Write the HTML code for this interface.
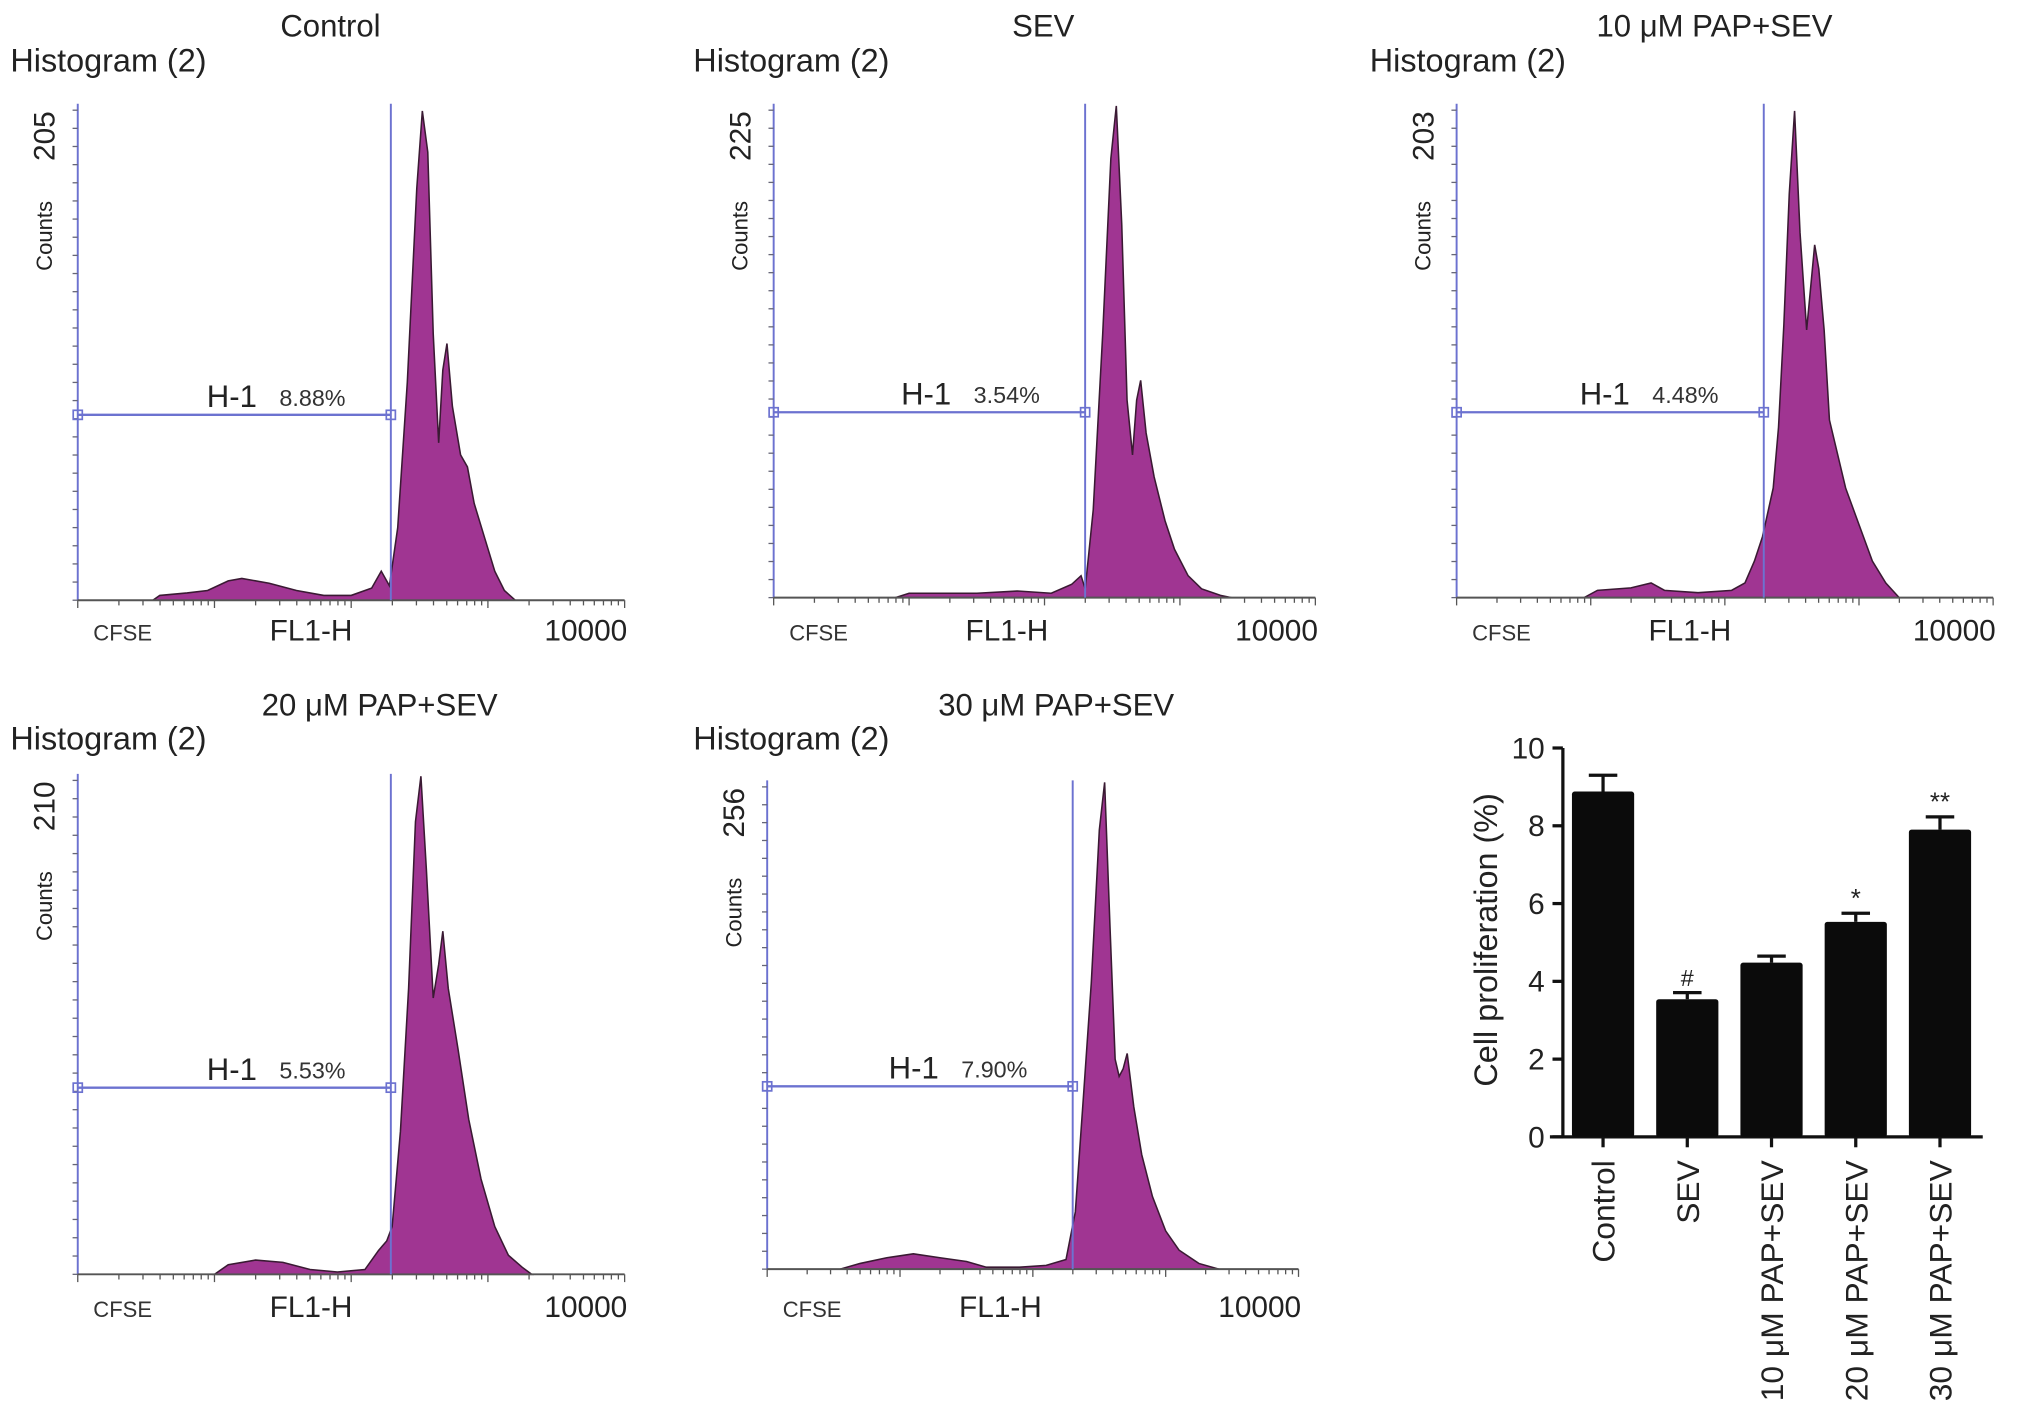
<!DOCTYPE html>
<html><head><meta charset="utf-8"><style>
html,body{margin:0;padding:0;background:#fff;}
svg{display:block;font-family:"Liberation Sans",sans-serif;}
</style></head><body>
<svg id="fig" width="2032" height="1426" viewBox="0 0 1568 1100" preserveAspectRatio="none" xmlns="http://www.w3.org/2000/svg"></svg>
<script>
// ---- Histogram data (x = log10 FL1-H, y = counts) ----
const ctrlX = [0.55,0.6,0.8,0.95,1.1,1.2,1.4,1.6,1.8,2.0,2.15,2.22,2.28,2.34,2.41,2.48,2.52,2.56,2.6,2.64,2.67,2.7,2.74,2.8,2.85,2.9,2.98,3.05,3.12,3.2];
const ctrlY = [0,2,3,4,8,9,7,4,2,2,5,12,6,30,90,170,202,185,110,65,95,106,80,60,55,40,25,12,4,0];
const sevX = [0.9,1.0,1.5,1.8,2.05,2.2,2.27,2.3,2.36,2.43,2.49,2.53,2.57,2.61,2.65,2.68,2.71,2.75,2.81,2.89,2.96,3.06,3.16,3.3,3.38];
const sevY = [0,2,2,3,2,6,10,4,40,120,200,224,170,90,65,90,99,75,55,35,22,10,4,1,0];
const p10X = [0.95,1.05,1.3,1.45,1.55,1.8,2.05,2.15,2.22,2.28,2.36,2.4,2.44,2.48,2.52,2.56,2.61,2.67,2.7,2.74,2.78,2.9,3.0,3.1,3.2,3.3];
const p10Y = [0,3,4,6,3,2,3,6,15,25,45,70,112,166,200,150,110,145,135,110,73,45,30,15,6,0];
const p20X = [1.0,1.1,1.3,1.5,1.7,1.9,2.1,2.2,2.26,2.3,2.36,2.42,2.47,2.51,2.55,2.6,2.64,2.67,2.71,2.78,2.86,2.95,3.05,3.15,3.25,3.32];
const p20Y = [0,4,6,5,2,1,2,10,14,20,60,120,190,209,170,116,130,144,120,95,65,40,20,8,3,0];
const p30X = [0.55,0.7,0.9,1.1,1.3,1.5,1.65,1.9,2.1,2.25,2.32,2.38,2.44,2.5,2.54,2.58,2.62,2.65,2.68,2.71,2.76,2.82,2.9,3.0,3.1,3.25,3.4];
const p30Y = [0,3,6,8,6,4,1,1,2,5,30,90,150,230,255,180,110,101,105,113,85,60,38,20,10,3,0];
const gatePct = ["8.88%","3.54%","4.48%","5.53%","7.90%"];
const panelTitles = ["Control","SEV","10 μM PAP+SEV","20 μM PAP+SEV","30 μM PAP+SEV"];
const yMaxLabels = [205,225,203,210,256];
const gateLog = [2.29,2.30,2.29,2.29,2.30];
// ---- Bar chart data ----
const barCats = ["Control","SEV","10 μM PAP+SEV","20 μM PAP+SEV","30 μM PAP+SEV"];
const barVals = [8.88,3.54,4.48,5.53,7.90];
const barErr = [0.42,0.17,0.17,0.22,0.33];
const barMarks = ["","#","","*","**"];
const barTicks = [0,2,4,6,8,10];

const NS="http://www.w3.org/2000/svg";
const svg=document.getElementById('fig');
function mk(tag,attrs,parent){const e=document.createElementNS(NS,tag);for(const k in attrs)e.setAttribute(k,attrs[k]);(parent||svg).appendChild(e);return e;}
function txt(s,attrs,parent){const e=mk('text',attrs,parent);e.textContent=s;return e;}

const panels=[
 {ax:60,top:80,bot:463,right:482,gy:320,tx:255,ty:28,hy:55,ly:494,xs:ctrlX,ys:ctrlY},
 {ax:597,top:80,bot:461,right:1015,gy:318,tx:805,ty:28,hy:55,ly:494,xs:sevX,ys:sevY},
 {ax:1124,top:80,bot:461,right:1538,gy:318,tx:1323,ty:28,hy:55,ly:494,xs:p10X,ys:p10Y},
 {ax:60,top:597,bot:983,right:482,gy:839,tx:293,ty:552,hy:578,ly:1016,xs:p20X,ys:p20Y},
 {ax:592,top:602,bot:979,right:1002,gy:838,tx:815,ty:552,hy:578,ly:1016,xs:p30X,ys:p30Y}
];
const hx=[8,535,1057,8,535];
panels.forEach((p,i)=>{
  const g=mk('g',{});
  
  
  const W=p.right-p.ax;
  const xS=v=>p.ax+v/4*W;
  const yS=c=>p.bot-c/yMaxLabels[i]*(p.bot-p.top);
  const t=txt(panelTitles[i],{x:p.tx,y:p.ty,'font-size':24,'text-anchor':'middle',fill:'#222'},g);
  
  
  const h=txt('Histogram (2)',{x:hx[i],y:p.hy,'font-size':25,fill:'#222'},g);
  
  
  let d='M'+xS(p.xs[0])+','+p.bot;
  p.xs.forEach((x,k)=>{d+=' L'+xS(x).toFixed(1)+','+yS(p.ys[k]).toFixed(1);});
  d+=' L'+xS(p.xs[p.xs.length-1])+','+p.bot+' Z';
  const hp=mk('path',{d:d,fill:'#a03592',stroke:'#3a1a33','stroke-width':1.2},g);
  
  
  const ya=mk('line',{x1:p.ax,y1:p.top,x2:p.ax,y2:p.bot,stroke:'#6c72d0','stroke-width':1.5},g);
  
  
  for(let k=0;k<=27;k++){const yy=p.top+5+k*(p.bot-p.top-5)/27;mk('line',{x1:p.ax-4,y1:yy,x2:p.ax,y2:yy,stroke:'#667','stroke-width':1},g);}
  const xa=mk('line',{x1:p.ax,y1:p.bot,x2:p.right,y2:p.bot,stroke:'#555','stroke-width':1.5},g);
  
  
  for(let dd=0;dd<4;dd++){for(let m=1;m<10;m++){const xx=xS(dd+Math.log10(m));mk('line',{x1:xx,y1:p.bot,x2:xx,y2:p.bot+(m==1?6:4),stroke:'#555','stroke-width':1},g);}}
  mk('line',{x1:p.right,y1:p.bot,x2:p.right,y2:p.bot+6,stroke:'#555'},g);
  const ym=txt(String(yMaxLabels[i]),{transform:'translate('+(p.ax-18)+','+(p.top+25)+') rotate(-90)','font-size':23,'text-anchor':'middle',fill:'#222'},g);
  
  
  const cl=txt('Counts',{transform:'translate('+(p.ax-20)+','+(p.top+102)+') rotate(-90)','font-size':17,'text-anchor':'middle',fill:'#222'},g);
  
  
  const cf=txt('CFSE',{x:p.ax+12,y:p.ly,'font-size':17,fill:'#333'},g);
  
  
  const fl=txt('FL1-H',{x:p.ax+180,y:p.ly,'font-size':23,'text-anchor':'middle',fill:'#222'},g);
  
  
  const tk=txt('10000',{x:p.right+2,y:p.ly,'font-size':23,'text-anchor':'end',fill:'#222'},g);
  
  
  const gx=xS(gateLog[i]);
  const gv=mk('line',{x1:gx,y1:p.top,x2:gx,y2:p.bot,stroke:'#6c72d0','stroke-width':1.5},g);
  
  
  const gh=mk('line',{x1:p.ax,y1:p.gy,x2:gx,y2:p.gy,stroke:'#6c72d0','stroke-width':1.8},g);
  
  
  [p.ax,gx].forEach(xx=>{const s=mk('rect',{x:xx-3.5,y:p.gy-3.5,width:7,height:7,fill:'none',stroke:'#6c72d0','stroke-width':1.3},g);
    
    });
  const hl=txt('H-1',{x:gx-142,y:p.gy-6,'font-size':24,fill:'#222'},g);
  
  
  const pc=txt(gatePct[i],{x:gx-86,y:p.gy-7,'font-size':18,fill:'#333'},g);
  
  
});

// ---- Bar chart ----
const bg=mk('g',{});


const bx0=1206, by0=877, by10=577;
const bY=v=>by0-v/10*(by0-by10);
const bX=i=>1237+i*65;
const bya=mk('line',{x1:bx0,y1:by10,x2:bx0,y2:by0,stroke:'#111','stroke-width':2.5},bg);


const bxa=mk('line',{x1:1196,y1:by0,x2:1530,y2:by0,stroke:'#111','stroke-width':2.5},bg);


barTicks.forEach(v=>{
  mk('line',{x1:bx0-8,y1:bY(v),x2:bx0,y2:bY(v),stroke:'#111','stroke-width':2.5},bg);
  const t=txt(String(v),{x:bx0-14,y:bY(v)+8,'font-size':23,'text-anchor':'end',fill:'#222'},bg);
  
  
});
const yt=txt('Cell proliferation (%)',{transform:'translate(1155,725) rotate(-90)','font-size':25,'text-anchor':'middle',fill:'#222'},bg);


barVals.forEach((v,i)=>{
  const cx=bX(i);
  const top=bY(v+barErr[i]);
  mk('line',{x1:cx,y1:bY(v),x2:cx,y2:top,stroke:'#111','stroke-width':2.5},bg);
  mk('line',{x1:cx-11,y1:top,x2:cx+11,y2:top,stroke:'#111','stroke-width':2.5},bg);
  const r=mk('rect',{x:cx-24,y:bY(v),width:48,height:by0-bY(v),fill:'#0b0b0b',rx:2},bg);
  
  
  mk('line',{x1:cx,y1:by0,x2:cx,y2:by0+8,stroke:'#111','stroke-width':2.5},bg);
  if(barMarks[i]){const m=txt(barMarks[i],{x:cx,y:top-5,'font-size':barMarks[i]=='#'?18:20,'text-anchor':'middle',fill:'#222'},bg);
    
    }
  const c=txt(barCats[i],{transform:'translate('+(cx+9)+','+(by0+18)+') rotate(-90)','font-size':24.5,'text-anchor':'end',fill:'#222'},bg);
  
  
});
</script>
</body></html>
